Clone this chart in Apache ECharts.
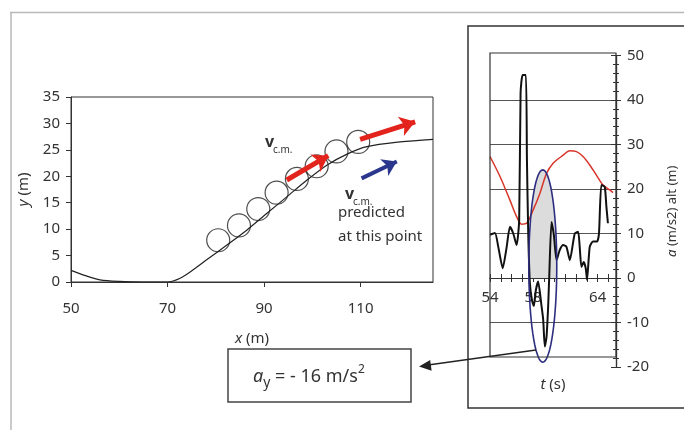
<!DOCTYPE html>
<html>
<head>
<meta charset="utf-8">
<script src="https://cdn.jsdelivr.net/npm/echarts@6/dist/echarts.min.js"></script>
<style>
html, body { margin: 0; padding: 0; background: #fff; }
#main { width: 684px; height: 430px; }
</style>
</head>
<body>
<div id="main"></div>
<script>
var FONT = 'Noto Sans';

// --- left panel: terrain profile x (m) vs y (m)
var terrainX = [50, 53, 56, 60, 65, 70, 72.6, 75.3, 78.1, 82.3, 86.4, 90.6, 94.7, 98.9, 103, 107.2, 111.3, 118.2, 125];
var terrainY = [2.2, 1.2, 0.4, 0.1, 0, 0, 0.7, 2.3, 4.2, 7.0, 9.8, 13.0, 16.1, 19.3, 22.1, 24.2, 25.6, 26.5, 27.0];
// positions of the rider (circles)
var riderX = [80.5, 84.8, 88.8, 92.6, 96.8, 100.9, 105.0, 109.5];
var riderY = [7.9, 10.7, 13.8, 16.9, 19.5, 21.9, 24.7, 26.5];
// velocity arrows [x1, y1, x2, y2]
var velMeasured = [[94.7, 19.3, 103.3, 23.9], [109.9, 27.0, 121.3, 30.3]];
var velPredicted = [[110.2, 19.6, 117.5, 22.8]];
var xTicks = [50, 70, 90, 110];

// --- right panel: a (m/s2) and alt (m) against t (s)
var accT = [54.0, 54.46, 54.77, 55.18, 55.55, 55.85, 56.16, 56.47, 56.71, 56.84, 57.03, 57.33, 57.43, 57.55,
  57.70, 57.89, 58.07, 58.26, 58.47, 58.79, 58.94, 59.09, 59.25, 59.40, 59.49, 59.71, 59.93, 60.18, 60.48,
  60.79, 61.10, 61.41, 61.87, 62.18, 62.33, 62.49, 62.70, 62.89, 63.01, 63.26, 63.56, 63.94, 64.12, 64.34,
  64.65, 64.81, 64.95];
var accV = [9.7, 10.1, 7.0, 2.2, 7.0, 11.5, 10.0, 7.4, 13.0, 41.6, 45.6, 45.6, 26.5, 10.1,
  -1.1, -4.9, -6.3, -2.7, -0.8, -6.4, -9.4, -15.4, -13.2, -6.4, -0.4, 12.6, 9.7, 4.0, 6.3,
  7.4, 7.0, 4.0, 10.0, 10.4, 7.0, 2.5, 3.6, 2.2, -0.4, 7.0, 8.2, 8.2, 10.0, 20.9,
  20.5, 16.0, 12.3];
var altT = [54.0, 54.93, 55.85, 56.47, 56.93, 57.40, 58.01, 58.63, 59.25, 59.86, 60.79, 61.41, 62.03, 62.64,
  63.26, 63.88, 64.49, 65.11, 65.42];
var altV = [27.3, 22.8, 17.5, 13.8, 12.1, 12.3, 15.3, 19.0, 23.5, 25.8, 27.6, 28.6, 28.4, 27.3,
  25.4, 23.1, 20.9, 19.8, 19.2];
var tLabels = [54, 58, 64];
// highlighted region: centre (t, a) and half sizes
var ellipseCenter = [58.9, 2.7];
var ellipseRadius = [1.3, 21.6];

function zip(a, b) {
  var out = [];
  for (var i = 0; i < a.length; i++) out.push([a[i], b[i]]);
  return out;
}
function arrows(list) {
  return list.map(function (d) { return { coords: [[d[0], d[1]], [d[2], d[3]]] }; });
}
function ellipsePoints(c, rx, ry, clampY) {
  var pts = [];
  for (var i = 0; i < 72; i++) {
    var a = i / 72 * Math.PI * 2;
    var y = c[1] + ry * Math.sin(a);
    if (clampY != null && y > clampY) y = clampY;
    pts.push([c[0] + rx * Math.cos(a), y]);
  }
  return pts;
}

// right plot: a = 0 sits 50/70 of the way down the grid
var rightTop = 55.5, rightHeight = 311.5;
var zeroOffset = -Math.round(rightHeight * 20 / 70);

var myChart = echarts.init(document.getElementById('main'));
var option = {
  animation : false,
  textStyle : { fontFamily : FONT },
  grid : [
    { left : 71, top : 97, width : 362, height : 185, show : true, borderColor : '#333', borderWidth : 1, outerBoundsMode : 'none' },
    { left : 490, top : rightTop, width : 126, height : rightHeight, outerBoundsMode : 'none' }
  ],
  xAxis : [
    {
      gridIndex : 0, type : 'value', min : 50, max : 125,
      name : '{i|x} (m)', nameLocation : 'middle', nameGap : 49,
      nameTextStyle : { fontSize : 15, color : '#333', rich : { i : { fontStyle : 'italic', fontSize : 15, color : '#333' } } },
      axisLine : { onZero : false, lineStyle : { color : '#333' } },
      axisTick : { customValues : xTicks, length : 5, lineStyle : { color : '#333' } },
      axisLabel : { customValues : xTicks, margin : 19, fontSize : 15, color : '#333' },
      splitLine : { show : false }
    },
    {
      gridIndex : 1, type : 'value', min : 54, max : 65.7, interval : 1, position : 'bottom', offset : zeroOffset,
      name : '{i|t} (s)', nameLocation : 'middle', nameGap : 99,
      nameTextStyle : { fontSize : 15, color : '#333', rich : { i : { fontStyle : 'italic', fontSize : 15, color : '#333' } } },
      axisLine : { onZero : false, lineStyle : { color : '#333', width : 1.2 } },
      axisTick : { length : 4, lineStyle : { color : '#333' } },
      axisLabel : { customValues : tLabels, margin : 12, fontSize : 15, color : '#333' },
      splitLine : { show : false }
    },
    {
      gridIndex : 1, type : 'value', min : 54, max : 65.7, interval : 1, position : 'bottom', offset : zeroOffset,
      axisLine : { onZero : false, lineStyle : { color : '#333', width : 1.2 } },
      axisTick : { inside : true, length : 4, lineStyle : { color : '#333' } },
      axisLabel : { show : false },
      splitLine : { show : false }
    }
  ],
  yAxis : [
    {
      gridIndex : 0, type : 'value', min : 0, max : 35, interval : 5,
      name : '{i|y} (m)', nameLocation : 'middle', nameGap : 40,
      nameTextStyle : { fontSize : 15, color : '#333', rich : { i : { fontStyle : 'italic', fontSize : 15, color : '#333' } } },
      axisLine : { show : true, lineStyle : { color : '#333' } },
      axisTick : { show : true, length : 5, lineStyle : { color : '#333' } },
      axisLabel : { margin : 11, fontSize : 15, color : '#333' },
      splitLine : { show : false }
    },
    {
      gridIndex : 1, type : 'value', position : 'right', min : -20, max : 50, interval : 10,
      name : '{i|a} (m/s2) alt (m)', nameLocation : 'middle', nameGap : 50, nameRotate : 90,
      nameTextStyle : { fontSize : 13, color : '#333', rich : { i : { fontStyle : 'italic', fontSize : 13, color : '#333' } } },
      axisLine : { show : true, onZero : false, lineStyle : { color : '#333', width : 1.2 } },
      axisTick : { show : true, length : 5, lineStyle : { color : '#333' } },
      minorTick : { show : true, splitNumber : 5, length : 3, lineStyle : { color : '#333' } },
      axisLabel : { margin : 11, fontSize : 15, color : '#333' },
      splitLine : { show : true, showMinLine : false, showMaxLine : false, lineStyle : { color : '#555', width : 1 } }
    },
    {
      gridIndex : 1, type : 'value', position : 'right', min : -20, max : 50, interval : 10,
      axisLine : { show : true, onZero : false, lineStyle : { color : '#333', width : 1.2 } },
      axisTick : { show : true, inside : true, length : 5, lineStyle : { color : '#333' } },
      minorTick : { show : true, splitNumber : 5, length : 3, lineStyle : { color : '#333' } },
      axisLabel : { show : false },
      splitLine : { show : false }
    }
  ],
  series : [
    {
      type : 'line', xAxisIndex : 0, yAxisIndex : 0, data : zip(terrainX, terrainY),
      smooth : 0.3, showSymbol : false, lineStyle : { color : '#222', width : 1.2 }
    },
    {
      type : 'scatter', xAxisIndex : 0, yAxisIndex : 0, data : zip(riderX, riderY),
      symbol : 'circle', symbolSize : 23,
      itemStyle : { color : 'transparent', borderColor : '#222', borderWidth : 1.2 }
    },
    {
      type : 'lines', coordinateSystem : 'cartesian2d', xAxisIndex : 0, yAxisIndex : 0,
      data : arrows(velMeasured), symbol : ['none', 'arrow'], symbolSize : 15,
      lineStyle : { color : '#e3241d', width : 5, opacity : 1 }, z : 5
    },
    {
      type : 'lines', coordinateSystem : 'cartesian2d', xAxisIndex : 0, yAxisIndex : 0,
      data : arrows(velPredicted), symbol : ['none', 'arrow'], symbolSize : 14,
      lineStyle : { color : '#2b378c', width : 4, opacity : 1 }, z : 5
    },
    {
      // shaded part of the highlighted region (above a = 0)
      type : 'custom', xAxisIndex : 1, yAxisIndex : 1, data : [ellipseCenter], z : 1,
      renderItem : function (params, api) {
        var c = api.coord([api.value(0), api.value(1)]);
        var s = api.size([ellipseRadius[0], ellipseRadius[1]]);
        var zeroY = api.coord([54, 0])[1];
        return { type : 'polygon', shape : { points : ellipsePoints(c, s[0], s[1], zeroY) },
          style : { fill : '#dcdcdc', stroke : 'none' } };
      }
    },
    {
      type : 'line', xAxisIndex : 1, yAxisIndex : 1, data : zip(altT, altV),
      smooth : 0.3, showSymbol : false, lineStyle : { color : '#d8352a', width : 1.5 }, z : 2
    },
    {
      type : 'line', xAxisIndex : 1, yAxisIndex : 1, data : zip(accT, accV),
      smooth : 0.2, showSymbol : false, lineStyle : { color : '#111', width : 2 }, z : 3
    },
    {
      type : 'custom', xAxisIndex : 1, yAxisIndex : 1, data : [ellipseCenter], z : 4,
      renderItem : function (params, api) {
        var c = api.coord([api.value(0), api.value(1)]);
        var s = api.size([ellipseRadius[0], ellipseRadius[1]]);
        return { type : 'polygon', shape : { points : ellipsePoints(c, s[0], s[1]) },
          style : { fill : 'none', stroke : '#2e2e80', lineWidth : 1.6 } };
      }
    }
  ],
  graphic : [
    // outer frame of the figure
    { type : 'line', shape : { x1 : 10, y1 : 12.5, x2 : 684, y2 : 12.5 }, style : { stroke : '#b8b8b8', lineWidth : 1.5 } },
    { type : 'line', shape : { x1 : 11, y1 : 12, x2 : 11, y2 : 430 }, style : { stroke : '#b8b8b8', lineWidth : 1.5 } },
    // right panel frame and plot box
    { type : 'rect', shape : { x : 468, y : 26, width : 240, height : 382 }, style : { fill : 'none', stroke : '#333', lineWidth : 1.5 } },
    { type : 'rect', shape : { x : 490, y : 53, width : 126, height : 304 }, style : { fill : 'none', stroke : '#333', lineWidth : 1.2 }, z : 10 },
    // annotation box
    { type : 'rect', shape : { x : 228, y : 349, width : 183, height : 53 }, style : { fill : '#fff', stroke : '#444', lineWidth : 1.5 } },
    {
      type : 'text', x : 253, y : 377,
      style : {
        text : '{a|a}{s|y}{n| = - 16 m/s}{p|2}', verticalAlign : 'middle', fill : '#333',
        rich : {
          a : { fontFamily : FONT, fontSize : 18, fontStyle : 'italic', fill : '#333', verticalAlign : 'middle', lineHeight : 26 },
          s : { fontFamily : FONT, fontSize : 14, fill : '#333', verticalAlign : 'bottom', lineHeight : 26 },
          n : { fontFamily : FONT, fontSize : 18, fill : '#333', verticalAlign : 'middle', lineHeight : 26 },
          p : { fontFamily : FONT, fontSize : 12, fill : '#333', verticalAlign : 'top', lineHeight : 26 }
        }
      }
    },
    // arrow from the region to the box
    { type : 'line', shape : { x1 : 536, y1 : 350, x2 : 428, y2 : 365 }, style : { stroke : '#222', lineWidth : 1.3 }, z : 10 },
    { type : 'polygon', shape : { points : [[419, 366.5], [431.6, 370.8], [430.2, 359.9]] }, style : { fill : '#222' }, z : 10 },
    // velocity labels
    { type : 'text', x : 265, y : 142, style : { text : 'v', font : 'bold 16px ' + FONT, fill : '#333', verticalAlign : 'middle' } },
    { type : 'text', x : 273, y : 150, style : { text : 'c.m.', font : '10px ' + FONT, fill : '#333', verticalAlign : 'middle' } },
    { type : 'text', x : 345, y : 194, style : { text : 'v', font : 'bold 16px ' + FONT, fill : '#333', verticalAlign : 'middle' } },
    { type : 'text', x : 353, y : 202, style : { text : 'c.m.', font : '10px ' + FONT, fill : '#333', verticalAlign : 'middle' } },
    { type : 'text', x : 338, y : 213, style : { text : 'predicted', font : '15px ' + FONT, fill : '#333', verticalAlign : 'middle' } },
    { type : 'text', x : 338, y : 237, style : { text : 'at this point', font : '15px ' + FONT, fill : '#333', verticalAlign : 'middle' } }
  ]
};

myChart.setOption(option);
</script>
</body>
</html>
